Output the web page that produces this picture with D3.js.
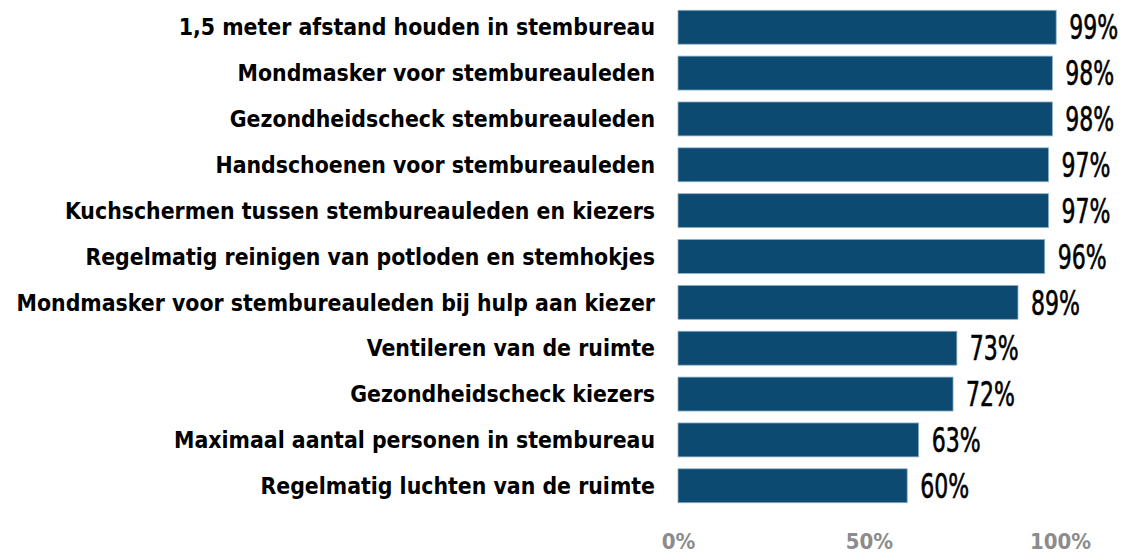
<!DOCTYPE html>
<html>
<head>
<meta charset="utf-8">
<script src="https://cdn.jsdelivr.net/npm/d3@7"></script>
<style>
  body { margin: 0; background: #fff; }
  svg { display: block; }
</style>
</head>
<body>
<div id="chart"></div>
<script>
// Maatregelen en percentages
var categories = [
    "1,5 meter afstand houden in stembureau",
    "Mondmasker voor stembureauleden",
    "Gezondheidscheck stembureauleden",
    "Handschoenen voor stembureauleden",
    "Kuchschermen tussen stembureauleden en kiezers",
    "Regelmatig reinigen van potloden en stemhokjes",
    "Mondmasker voor stembureauleden bij hulp aan kiezer",
    "Ventileren van de ruimte",
    "Gezondheidscheck kiezers",
    "Maximaal aantal personen in stembureau",
    "Regelmatig luchten van de ruimte"
];
var values = [99, 98, 98, 97, 97, 96, 89, 73, 72, 63, 60];
var ticks = [0, 50, 100];

var width = 1122, height = 553;

var svg = d3.select("#chart").append("svg")
    .attr("width", width)
    .attr("height", height);

var x = d3.scaleLinear().domain([0, 100]).range([678, 1060]);
var y = d3.scaleBand().domain(categories).range([4.3, 508.7]).paddingInner(0.26).paddingOuter(0.13);

// bars
svg.append("g")
    .selectAll("rect")
    .data(values)
    .enter().append("rect")
    .attr("x", x(0))
    .attr("y", function(d, i){ return y(categories[i]); })
    .attr("width", function(d){ return x(d) - x(0); })
    .attr("height", y.bandwidth())
    .attr("fill", "#0c4a72")
    .attr("stroke", "#8fb0c8")
    .attr("stroke-width", 0.8);

// category labels
svg.append("g")
    .selectAll("text")
    .data(categories)
    .enter().append("text")
    .attr("x", 655)
    .attr("y", function(d){ return y(d) + y.bandwidth()/2; })
    .attr("dy", "0.36em")
    .attr("text-anchor", "end")
    .style("font-family", "'DejaVu Sans Condensed', 'DejaVu Sans'")
    .style("font-weight", "bold")
    .style("font-size", "22.8px")
    .style("fill", "#000")
    .text(function(d){ return d; });

// value labels (narrow)
svg.append("g")
    .selectAll("text")
    .data(values)
    .enter().append("text")
    .attr("transform", function(d, i){
        return "translate(" + (x(d) + 13) + "," + (y(categories[i]) + y.bandwidth()/2) + ") scale(0.72,1)";
    })
    .attr("dy", "0.36em")
    .style("font-family", "'Liberation Sans Narrow', 'DejaVu Sans Condensed'")
    .style("font-size", "34px")
    .style("fill", "#000")
    .style("stroke", "#000")
    .style("stroke-width", 0.6)
    .text(function(d){ return d + "%"; });

// x axis
var axis = d3.axisBottom(x).tickValues(ticks).tickSize(0).tickFormat(function(d){ return d + "%"; });
var ax = svg.append("g")
    .attr("transform", "translate(0,534)")
    .call(axis);
ax.select(".domain").remove();
ax.selectAll("text")
    .attr("dy", 0)
    .attr("y", 15)
    .style("font-family", "'DejaVu Sans Condensed', 'DejaVu Sans'")
    .style("font-weight", "bold")
    .style("font-size", "22px")
    .style("fill", "#8c8c8c");
</script>
</body>
</html>
